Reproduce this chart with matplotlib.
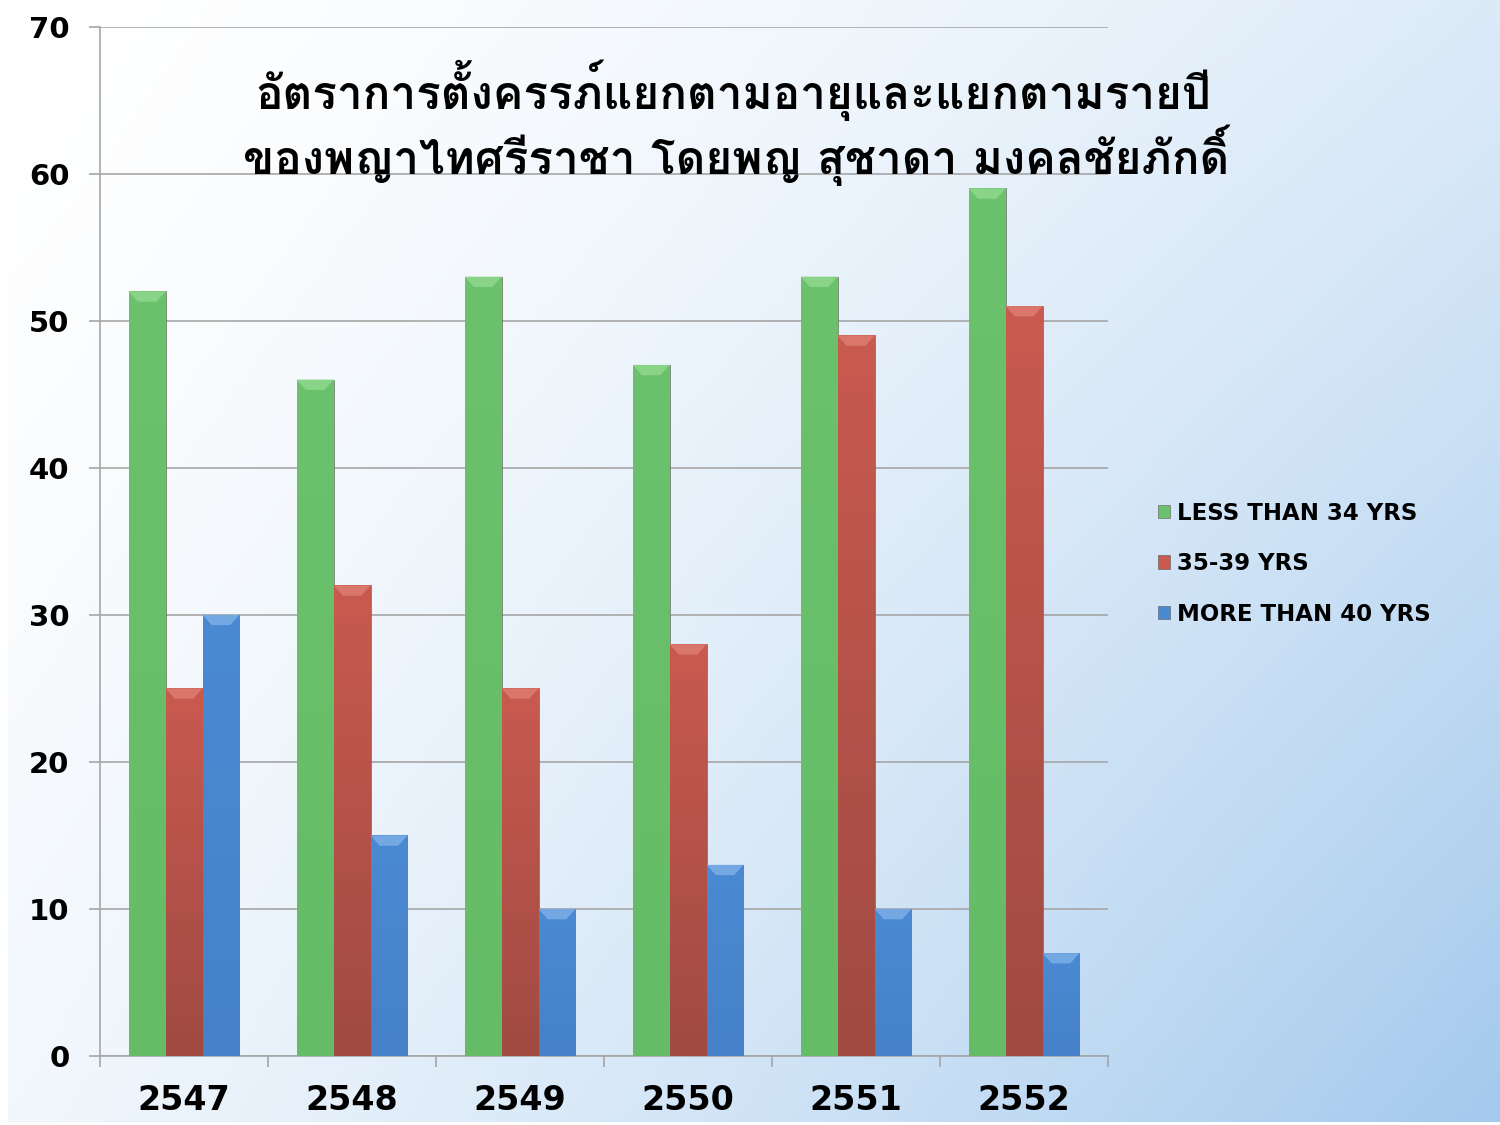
import numpy as np
import matplotlib
matplotlib.use("Agg")
import matplotlib.pyplot as plt
from matplotlib import font_manager
from matplotlib.ft2font import FT2Font
from matplotlib.patches import Polygon

# Data
years = ['2547', '2548', '2549', '2550', '2551', '2552']
less_than_34 = [52, 46, 53, 47, 53, 59]
age_35_39 = [25, 32, 25, 28, 49, 51]
more_than_40 = [30, 15, 10, 13, 10, 7]
series_names = ['LESS THAN 34 YRS', '35-39 YRS', 'MORE THAN 40 YRS']
title_lines = ['อัตราการตั้งครรภ์แยกตามอายุและแยกตามรายปี',
               'ของพญาไทศรีราชา โดยพญ สุชาดา มงคลชัยภักดิ์']


def find_thai_font():
    # look for an installed upright font that has Thai glyphs, bold if possible
    best, best_score = None, -1
    for f in font_manager.fontManager.ttflist:
        try:
            cmap = FT2Font(f.fname).get_charmap()
        except Exception:
            continue
        if 0x0E2D not in cmap or 0x0E31 not in cmap:
            continue
        score = 0
        if f.style == 'normal':
            score += 2
        if f.weight in ('bold', 700, 'heavy', 800):
            score += 1
        if score > best_score:
            best, best_score = f, score
    return best


thai = find_thai_font()
if thai is not None:
    title_font = font_manager.FontProperties(fname=thai.fname, size=33)
else:
    title_font = font_manager.FontProperties(family='DejaVu Sans', size=30, weight='bold')

fig = plt.figure(figsize=(15, 11.25), dpi=100)

# background gradient (white top-left to light blue bottom-right), thin white rim left/bottom
bg = fig.add_axes([0.005, 0.003, 0.995, 0.997], zorder=-10)
gx, gy = np.meshgrid(np.linspace(0, 1, 300), np.linspace(0, 1, 225))
t = np.clip(0.38 * gx ** 1.5 + 0.15 * gy ** 1.5 + 0.47 * gx * gy, 0, 1)
c0 = np.array([1.0, 1.0, 1.0])
c1 = np.array([0.64, 0.79, 0.93])
img = c0 + (c1 - c0) * t[..., None]
bg.imshow(img, extent=[0, 1, 0, 1], aspect='auto', origin='upper')
bg.axis('off')

ax = fig.add_axes([0.0667, 0.0613, 0.672, 0.915])
ax.set_facecolor('none')

x = np.arange(len(years))
w = 0.22
colors = [('#6cc26c', '#66bb66'), ('#c95a50', '#a04a42'), ('#4a8ad2', '#4681c9')]
bevel = ['#8ad48a', '#d9776c', '#74a8e3']
all_bars = []
for i, (vals, name) in enumerate(zip([less_than_34, age_35_39, more_than_40], series_names)):
    bars = ax.bar(x + (i - 1) * w, vals, w, color=colors[i][0], edgecolor='#5a5a5a',
                  linewidth=0.4, label=name, zorder=3)
    all_bars.append((bars, i))

ax.set_xlim(-0.5, len(years) - 0.5)
ax.set_ylim(0, 70)

# vertical gradient + top bevel on each bar
for bars, i in all_bars:
    top_c = np.array(matplotlib.colors.to_rgb(colors[i][0]))
    bot_c = np.array(matplotlib.colors.to_rgb(colors[i][1]))
    grad = top_c + (bot_c - top_c) * np.linspace(0, 1, 64)[:, None]
    for b in bars:
        x0, y0 = b.get_x(), b.get_y()
        bw, bh = b.get_width(), b.get_height()
        im = ax.imshow(grad[:, None, :], extent=[x0, x0 + bw, y0, y0 + bh],
                       aspect='auto', origin='upper', zorder=3.5)
        im.set_clip_path(b)
        dy = 0.7
        dx = bw * 0.25
        ax.add_patch(Polygon([[x0, y0 + bh], [x0 + bw, y0 + bh],
                              [x0 + bw - dx, y0 + bh - dy], [x0 + dx, y0 + bh - dy]],
                             closed=True, facecolor=bevel[i], edgecolor='none', zorder=4))
ax.set_xlim(-0.5, len(years) - 0.5)
ax.set_ylim(0, 70)

ax.set_yticks(range(0, 71, 10))
ax.yaxis.grid(True, color='#a6a6a6', linewidth=1.2, zorder=0)
ax.set_axisbelow(True)
ax.set_xticks(x)
ax.set_xticklabels(years, fontsize=24, fontweight='bold')
ax.set_xticks(np.arange(-0.5, len(years)), minor=True)
ax.tick_params(axis='x', which='major', length=0, pad=20)
ax.tick_params(axis='x', which='minor', length=8, color='#a6a6a6', width=1.2)
ax.tick_params(axis='y', length=8, color='#a6a6a6', width=1.2, pad=14, labelsize=21)
for lab in ax.get_yticklabels():
    lab.set_fontweight('bold')
for s in ['top', 'right']:
    ax.spines[s].set_visible(False)
for s in ['left', 'bottom']:
    ax.spines[s].set_color('#a6a6a6')
    ax.spines[s].set_linewidth(1.2)

fig.text(0.489, 0.92, title_lines[0], ha='center', va='center', fontproperties=title_font)
fig.text(0.491, 0.862, title_lines[1], ha='center', va='center', fontproperties=title_font)

leg = fig.legend(loc='center left', bbox_to_anchor=(0.758, 0.499), frameon=False,
                 prop={'size': 16.5, 'weight': 'bold'}, handlelength=0.55, handleheight=0.55,
                 handletextpad=0.3, labelspacing=1.2)

fig.savefig('out.png', dpi=100)
